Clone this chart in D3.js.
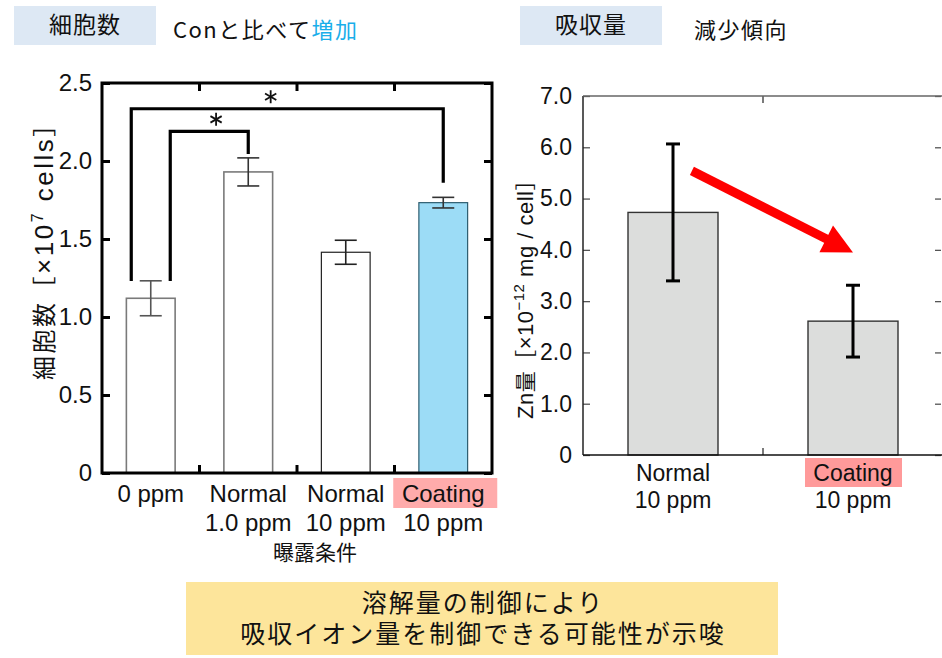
<!DOCTYPE html>
<html>
<head>
<meta charset="utf-8">
<script src="https://cdn.jsdelivr.net/npm/d3@7/dist/d3.min.js"></script>
<style>
  body { margin: 0; background: #fff; }
  text { font-family: "Liberation Sans", Arial, sans-serif; fill: #111; }
  .jp { font-family: "Noto Sans CJK JP", "Noto Sans", sans-serif; }
</style>
</head>
<body>
<div class="chart"></div>
<script>
// ---- data: cell count (left) ----
var cellGroups = ['0 ppm', 'Normal 1.0 ppm', 'Normal 10 ppm', 'Coating 10 ppm'];
var cellLine1 = ['0 ppm', 'Normal', 'Normal', 'Coating'];
var cellLine2 = ['', '1.0 ppm', '10 ppm', '10 ppm'];
var cellMean = [1.12, 1.93, 1.415, 1.733];
var cellErr = [0.112, 0.09, 0.077, 0.034];
var cellTicks = [0, 0.5, 1.0, 1.5, 2.0, 2.5];
// significance brackets: groups, bar level, end heights
var sigFrom = [0, 0];
var sigTo = [1, 3];
var sigLevel = [2.19, 2.335];
var sigLeftEnd = [1.23, 1.23];
var sigRightEnd = [2.045, 1.86];

// ---- data: Zn uptake (right) ----
var znGroups = ['Normal 10 ppm', 'Coating 10 ppm'];
var znLine1 = ['Normal', 'Coating'];
var znLine2 = ['10 ppm', '10 ppm'];
var znMean = [4.73, 2.61];
var znErr = [1.335, 0.70];
var znTicks = [0, 1, 2, 3, 4, 5, 6, 7];
var arrowFrom = 5.54;
var arrowTo = 3.95;

var W = 942, H = 658;
var svg = d3.select('.chart').append('svg')
  .attr('width', W)
  .attr('height', H);

var fmt = function (d) { return d === 0 ? '0' : d3.format('.1f')(d); };

// header boxes
function header(x, label, noteX, note, hl) {
  svg.append('rect').attr('x', x).attr('y', 6).attr('width', 142).attr('height', 39)
    .attr('fill', '#dde8f4');
  svg.append('text').attr('class', 'jp').attr('x', x + 71).attr('y', 33)
    .attr('text-anchor', 'middle').style('font-size', '23px').style('letter-spacing', '1px').text(label);
  var t = svg.append('text').attr('class', 'jp').attr('x', noteX).attr('y', 38)
    .style('font-size', '22px').style('letter-spacing', '1.5px');
  t.append('tspan').text(note);
  if (hl) t.append('tspan').style('fill', '#1aaeea').text(hl);
}
header(14, '細胞数', 173, 'Conと比べて', '増加');
header(520, '吸収量', 694, '減少傾向', null);

// =========== left chart ===========
var L = {left: 102, right: 492, top: 83, bottom: 473};
var xCell = d3.scaleBand().domain(cellGroups).range([L.left, L.right])
  .paddingInner(0.5).paddingOuter(0.25);
var yCell = d3.scaleLinear().domain([0, 2.5]).range([L.bottom, L.top]);
var step = xCell.step();
var left = svg.append('g');

var yAxL = left.append('g').attr('transform', 'translate(' + L.left + ',0)')
  .call(d3.axisLeft(yCell).tickValues(cellTicks).tickSize(-8).tickPadding(10).tickFormat(fmt));
var yAxR = left.append('g').attr('transform', 'translate(' + L.right + ',0)')
  .call(d3.axisRight(yCell).tickValues(cellTicks).tickSize(-8).tickFormat(''));
[yAxL, yAxR].forEach(function (a) {
  a.select('.domain').remove();
  a.selectAll('line').attr('stroke', '#000').attr('stroke-width', 3);
  a.selectAll('text').style('font-size', '24px').attr('fill', '#111');
});

// category boundary ticks on top and bottom
var bounds = cellGroups.slice(1).map(function (g) { return xCell(g) - step * 0.25; });
bounds.forEach(function (bx) {
  left.append('line').attr('x1', bx).attr('x2', bx)
    .attr('y1', yCell(0)).attr('y2', yCell(0) - 8).attr('stroke', '#000').attr('stroke-width', 3);
  left.append('line').attr('x1', bx).attr('x2', bx)
    .attr('y1', yCell(2.5)).attr('y2', yCell(2.5) + 8).attr('stroke', '#000').attr('stroke-width', 3);
});

var cellFill = d3.scaleOrdinal().domain(cellGroups).range(['#fff', '#fff', '#fff', '#9cdcf6']);
var cellStroke = d3.scaleOrdinal().domain(cellGroups).range(['#7a7a7a', '#7a7a7a', '#222', '#2d5d70']);
var cellErrC = d3.scaleOrdinal().domain(cellGroups).range(['#555', '#333', '#222', '#333']);

left.selectAll('.bar').data(cellGroups).enter().append('rect')
  .attr('class', 'bar')
  .attr('x', function (d) { return xCell(d); })
  .attr('width', xCell.bandwidth())
  .attr('y', function (d, i) { return yCell(cellMean[i]); })
  .attr('height', function (d, i) { return yCell(0) - yCell(cellMean[i]); })
  .attr('fill', cellFill)
  .attr('stroke', cellStroke)
  .attr('stroke-width', function (d, i) { return i < 2 ? 1.6 : 1.2; });

cellGroups.forEach(function (g, i) {
  var cx = xCell(g) + xCell.bandwidth() / 2;
  var eg = left.append('g').attr('stroke', cellErrC(g)).attr('stroke-width', 1.6);
  eg.append('line').attr('x1', cx).attr('x2', cx)
    .attr('y1', yCell(cellMean[i] + cellErr[i])).attr('y2', yCell(cellMean[i] - cellErr[i]));
  [cellMean[i] + cellErr[i], cellMean[i] - cellErr[i]].forEach(function (v) {
    eg.append('line').attr('x1', cx - 11).attr('x2', cx + 11)
      .attr('y1', yCell(v)).attr('y2', yCell(v));
  });
});

// frame
left.append('rect').attr('x', L.left).attr('y', L.top)
  .attr('width', L.right - L.left).attr('height', L.bottom - L.top)
  .attr('fill', 'none').attr('stroke', '#000').attr('stroke-width', 3);

// asterisk drawn as three crossing strokes
function star(g, cx, cy, r) {
  [90, 30, 150].forEach(function (deg) {
    var a = deg * Math.PI / 180;
    g.append('line')
      .attr('x1', cx - r * Math.cos(a)).attr('y1', cy - r * Math.sin(a))
      .attr('x2', cx + r * Math.cos(a)).attr('y2', cy + r * Math.sin(a))
      .attr('stroke', '#111').attr('stroke-width', 1.8);
  });
}

// significance brackets
var starShift = [0.07, -0.17];
sigFrom.forEach(function (f, k) {
  var shift = k === 0 ? 0.2 : -0.2;
  var xa = xCell(cellGroups[f]) + xCell.bandwidth() / 2 + shift * step;
  var xb = xCell(cellGroups[sigTo[k]]) + xCell.bandwidth() / 2;
  left.append('path')
    .attr('d', 'M' + xa + ',' + yCell(sigLeftEnd[k]) + 'V' + yCell(sigLevel[k]) +
      'H' + xb + 'V' + yCell(sigRightEnd[k]))
    .attr('fill', 'none').attr('stroke', '#000').attr('stroke-width', 3.2);
  star(left, (xa + xb) / 2 + starShift[k] * step, yCell(sigLevel[k]) - 12, 6.5);
});

// x labels
cellGroups.forEach(function (g, i) {
  var cx = xCell(g) + xCell.bandwidth() / 2;
  if (g.indexOf('Coating') === 0) {
    left.append('rect').attr('x', cx - 50).attr('y', 478).attr('width', 104).attr('height', 30)
      .attr('fill', '#ffabab');
  }
  left.append('text').attr('x', cx).attr('y', 502).attr('text-anchor', 'middle')
    .style('font-size', '24px').text(cellLine1[i]);
  left.append('text').attr('x', cx).attr('y', 531).attr('text-anchor', 'middle')
    .style('font-size', '24px').text(cellLine2[i]);
});
left.append('text').attr('class', 'jp').attr('x', 315).attr('y', 560)
  .attr('text-anchor', 'middle').style('font-size', '21px').text('曝露条件');

// y label
var yl = left.append('text')
  .attr('transform', 'translate(53,' + 245 + ') rotate(-90)')
  .attr('text-anchor', 'middle').style('font-size', '26px').style('letter-spacing', '2.5px');
yl.append('tspan').attr('class', 'jp').style('font-size', '24px').text('細胞数［');
yl.append('tspan').text('×10');
yl.append('tspan').attr('dy', -10).style('font-size', '16px').text('7');
yl.append('tspan').attr('dy', 10).text(' cells');
yl.append('tspan').attr('class', 'jp').style('font-size', '24px').text('］');

// =========== right chart ===========
var R = {left: 583, right: 943, top: 96, bottom: 455};
var xZn = d3.scaleBand().domain(znGroups).range([R.left, R.right])
  .paddingInner(0.5).paddingOuter(0.25);
var yZn = d3.scaleLinear().domain([0, 7]).range([R.bottom, R.top]);
var right = svg.append('g');

var zAxL = right.append('g').attr('transform', 'translate(' + R.left + ',0)')
  .call(d3.axisLeft(yZn).tickValues(znTicks).tickSize(-7).tickPadding(11).tickFormat(fmt));
var zAxR = right.append('g').attr('transform', 'translate(' + (R.right - 2) + ',0)')
  .call(d3.axisRight(yZn).tickValues(znTicks).tickSize(-6).tickFormat(''));
[zAxL, zAxR].forEach(function (a) {
  a.select('.domain').remove();
  a.selectAll('line').attr('stroke', '#555').attr('stroke-width', 1.3);
  a.selectAll('text').style('font-size', '23px').attr('fill', '#111');
});

var midZn = xZn(znGroups[1]) - xZn.step() * 0.25;
right.append('line').attr('x1', midZn).attr('x2', midZn)
  .attr('y1', yZn(0)).attr('y2', yZn(0) - 7).attr('stroke', '#333').attr('stroke-width', 1.3);
right.append('line').attr('x1', midZn).attr('x2', midZn)
  .attr('y1', yZn(7)).attr('y2', yZn(7) + 7).attr('stroke', '#333').attr('stroke-width', 1.3);

right.selectAll('.zbar').data(znGroups).enter().append('rect')
  .attr('class', 'zbar')
  .attr('x', function (d) { return xZn(d); })
  .attr('width', xZn.bandwidth())
  .attr('y', function (d, i) { return yZn(znMean[i]); })
  .attr('height', function (d, i) { return yZn(0) - yZn(znMean[i]); })
  .attr('fill', '#dcdddc')
  .attr('stroke', '#333')
  .attr('stroke-width', 1.4);

znGroups.forEach(function (g, i) {
  var cx = xZn(g) + xZn.bandwidth() / 2;
  var eg = right.append('g').attr('stroke', '#000').attr('stroke-width', 3);
  eg.append('line').attr('x1', cx).attr('x2', cx)
    .attr('y1', yZn(znMean[i] + znErr[i])).attr('y2', yZn(znMean[i] - znErr[i]));
  [znMean[i] + znErr[i], znMean[i] - znErr[i]].forEach(function (v) {
    eg.append('line').attr('x1', cx - 7).attr('x2', cx + 7)
      .attr('y1', yZn(v)).attr('y2', yZn(v));
  });
});

// frame: black left/bottom, grey top/right
right.append('line').attr('x1', R.left).attr('x2', R.left).attr('y1', R.top).attr('y2', R.bottom)
  .attr('stroke', '#222').attr('stroke-width', 1.5);
right.append('line').attr('x1', R.left).attr('x2', R.right).attr('y1', R.bottom).attr('y2', R.bottom)
  .attr('stroke', '#111').attr('stroke-width', 1.6);
right.append('line').attr('x1', R.left).attr('x2', R.right).attr('y1', R.top).attr('y2', R.top)
  .attr('stroke', '#666').attr('stroke-width', 1.5);

// red arrow
var ax0 = xZn(znGroups[0]) + xZn.bandwidth() / 2 + 0.105 * xZn.step();
var ay0 = yZn(arrowFrom);
var ax1 = xZn(znGroups[1]) + xZn.bandwidth() / 2;
var ay1 = yZn(arrowTo);
var ang = Math.atan2(ay1 - ay0, ax1 - ax0);
var hl = 30, hw = 15;
var bx = ax1 - hl * Math.cos(ang), by = ay1 - hl * Math.sin(ang);
right.append('line').attr('x1', ax0).attr('y1', ay0).attr('x2', bx + 2 * Math.cos(ang)).attr('y2', by + 2 * Math.sin(ang))
  .attr('stroke', '#ff0000').attr('stroke-width', 9);
right.append('path')
  .attr('d', 'M' + ax1 + ',' + ay1 +
    'L' + (bx - hw * Math.sin(ang)) + ',' + (by + hw * Math.cos(ang)) +
    'L' + (bx + hw * Math.sin(ang)) + ',' + (by - hw * Math.cos(ang)) + 'Z')
  .attr('fill', '#ff0000');

// x labels
znGroups.forEach(function (g, i) {
  var cx = xZn(g) + xZn.bandwidth() / 2;
  if (g.indexOf('Coating') === 0) {
    right.append('rect').attr('x', cx - 48).attr('y', 458).attr('width', 97).attr('height', 29)
      .attr('fill', '#ff9a9a');
  }
  right.append('text').attr('x', cx).attr('y', 481).attr('text-anchor', 'middle')
    .style('font-size', '23px').text(znLine1[i]);
  right.append('text').attr('x', cx).attr('y', 508).attr('text-anchor', 'middle')
    .style('font-size', '23px').text(znLine2[i]);
});

// y label
var zl = right.append('text')
  .attr('transform', 'translate(533,' + 294 + ') rotate(-90)')
  .attr('text-anchor', 'middle').style('font-size', '22px').style('letter-spacing', '0.5px');
zl.append('tspan').text('Zn');
zl.append('tspan').attr('class', 'jp').style('font-size', '21px').text('量［');
zl.append('tspan').text('×10');
zl.append('tspan').attr('dy', -9).style('font-size', '15px').text('−12');
zl.append('tspan').attr('dy', 9).text(' mg / cell');
zl.append('tspan').attr('class', 'jp').style('font-size', '21px').text('］');

// =========== conclusion box ===========
svg.append('rect').attr('x', 186).attr('y', 582).attr('width', 592).attr('height', 73)
  .attr('fill', '#fde59b');
var concl = svg.append('text').attr('class', 'jp')
  .attr('text-anchor', 'middle').style('font-size', '25px').style('letter-spacing', '2px');
concl.append('tspan').attr('x', 483).attr('y', 612).text('溶解量の制御により');
concl.append('tspan').attr('x', 483).attr('dy', 31).text('吸収イオン量を制御できる可能性が示唆');
</script>
</body>
</html>
